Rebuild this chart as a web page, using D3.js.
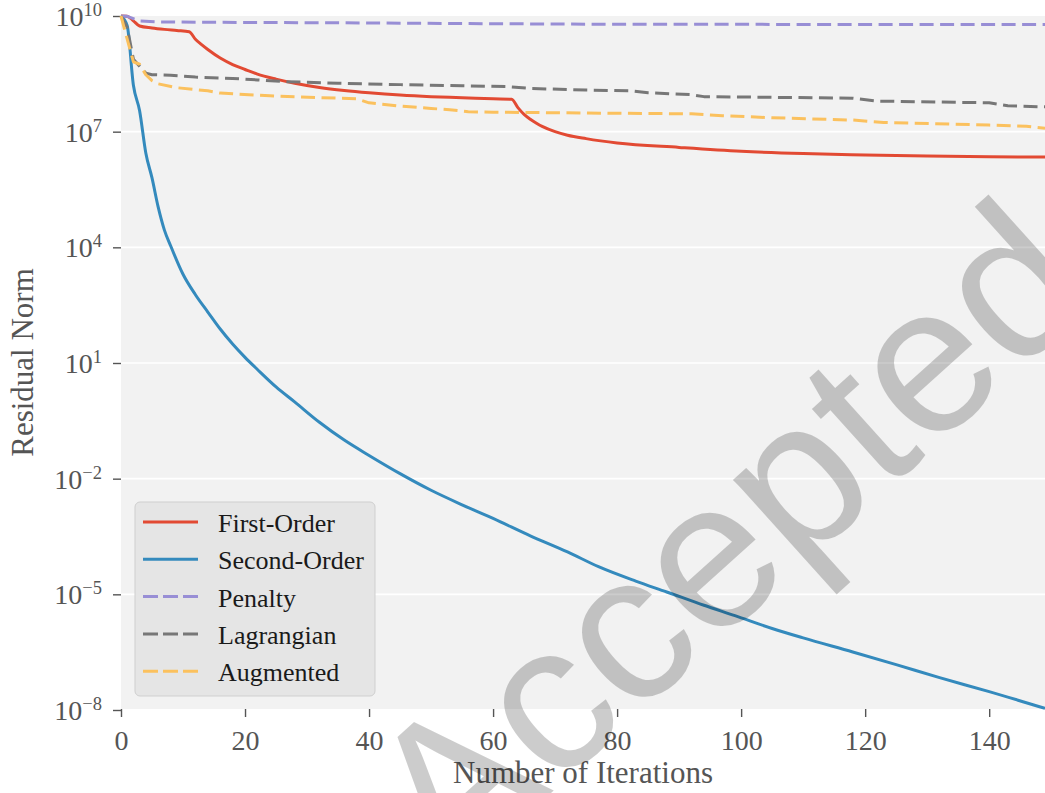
<!DOCTYPE html>
<html>
<head>
<meta charset="utf-8">
<script src="https://cdn.jsdelivr.net/npm/d3@7"></script>
<style>
  html, body { margin: 0; padding: 0; background: #fff; }
  svg { display: block; font-family: "Liberation Serif", "DejaVu Serif", serif; }
</style>
</head>
<body>
<svg id="chart" width="1045" height="793"></svg>
<script>
// residual norm per iteration
const firstOrderIters = [0, 1, 2, 3, 5, 7, 9, 11, 12, 13, 14, 16, 18, 20, 22, 25, 28, 32, 36, 40, 45, 50, 55, 60, 63,
  64, 65, 66, 67, 68, 70, 72, 75, 80, 90, 100, 110, 120, 130, 140, 149];
const firstOrderResidual = [1e10, 9.9e9, 7.5e9, 5.5e9, 4.9e9, 4.5e9, 4.2e9, 3.9e9, 2.5e9, 1.8e9, 1.35e9, 8.1e8, 5.5e8,
  4.1e8, 3.1e8, 2.3e8, 1.8e8, 1.4e8, 1.17e8, 1.02e8, 8.9e7, 8.1e7, 7.6e7, 7.1e7, 6.9e7,
  4.2e7, 2.8e7, 2.1e7, 1.66e7, 1.35e7, 1.0e7, 8.1e6, 6.6e6, 5.1e6, 3.9e6, 3.1e6, 2.7e6, 2.5e6, 2.35e6, 2.24e6, 2.19e6];

const secondOrderIters = [0, 1, 2, 3, 4, 5, 6, 7, 8, 10, 12, 14, 16, 18, 20, 22, 25, 28, 32, 36, 40, 45, 50, 55, 60,
  66, 72, 77, 83, 88, 94, 99, 105, 110, 118, 125, 132, 140, 149];
const secondOrderResidual = [1e10, 5.6e9, 1.6e8, 3.5e7, 2.8e6, 6.3e5, 1.1e5, 2.8e4, 1.1e4, 2.0e3, 590, 210, 76, 31, 14,
  6.8, 2.4, 0.98, 0.29, 0.1, 0.04, 0.0135, 5.0e-3, 2.1e-3, 9.3e-4,
  3.3e-4, 1.26e-4, 5.2e-5, 2.2e-5, 1.15e-5, 5.2e-6, 2.8e-6, 1.3e-6, 7.4e-7, 3.2e-7, 1.5e-7, 6.9e-8, 3.0e-8, 1.1e-8];

const penaltyIters = [0, 1, 2, 3, 6, 20, 40, 60, 80, 149];
const penaltyResidual = [1e10, 9.8e9, 8.5e9, 7.4e9, 7.0e9, 6.8e9, 6.6e9, 6.3e9, 6.1e9, 6.0e9];

const lagrangianIters = [0, 1, 2, 3, 4, 5, 8, 12, 18, 22, 26, 35, 45, 55, 62, 66, 75, 82, 85, 92, 94, 118, 122, 140, 143, 149];
const lagrangianResidual = [1e10, 5.0e9, 7.6e8, 5.0e8, 3.3e8, 3.0e8, 2.9e8, 2.6e8, 2.4e8, 2.2e8, 2.0e8, 1.8e8, 1.66e8,
  1.55e8, 1.48e8, 1.32e8, 1.2e8, 1.15e8, 1.02e8, 9.1e7, 8.1e7, 7.4e7, 6.2e7, 5.6e7, 4.7e7, 4.4e7];

const augmentedIters = [0, 1, 2, 3, 4, 5, 6, 9, 14, 16, 24, 38, 40, 45, 50, 53, 56, 60, 80, 92, 97, 105, 118, 123, 140, 146, 149];
const augmentedResidual = [1e10, 2.5e9, 6.5e8, 5.6e8, 3.0e8, 2.1e8, 1.74e8, 1.38e8, 1.15e8, 1.0e8, 8.5e7, 7.1e7, 5.6e7,
  4.6e7, 4.0e7, 3.7e7, 3.3e7, 3.2e7, 3.0e7, 2.9e7, 2.6e7, 2.3e7, 2.0e7, 1.74e7, 1.48e7, 1.38e7, 1.23e7];

const xTicks = [0, 20, 40, 60, 80, 100, 120, 140];
const yTicks = [1e10, 1e7, 1e4, 1e1, 1e-2, 1e-5, 1e-8];
const yTickExponents = ["10", "7", "4", "1", "\u22122", "\u22125", "\u22128"];

const series = [
  { name: "First-Order", iters: firstOrderIters, values: firstOrderResidual, color: "#E24A33", dash: null, smooth: true },
  { name: "Second-Order", iters: secondOrderIters, values: secondOrderResidual, color: "#348ABD", dash: null, smooth: true },
  { name: "Penalty", iters: penaltyIters, values: penaltyResidual, color: "#988ED5", dash: "14,6.5", smooth: false },
  { name: "Lagrangian", iters: lagrangianIters, values: lagrangianResidual, color: "#777777", dash: "14,6.5", smooth: false },
  { name: "Augmented", iters: augmentedIters, values: augmentedResidual, color: "#FBC15E", dash: "14,6.5", smooth: false }
];

// plot area in page pixels
const plot = { left: 121, right: 1045, top: 16, bottom: 709 };

const svg = d3.select("#chart");

const x = d3.scaleLinear().domain([0, 149]).range([plot.left, plot.right]);
const y = d3.scaleLog().domain([1e-8, 1e10]).range([plot.bottom + 1, plot.top]);

// background + grid
svg.append("rect")
  .attr("x", plot.left).attr("y", plot.top)
  .attr("width", plot.right - plot.left).attr("height", plot.bottom - plot.top)
  .attr("fill", "#f2f2f2");

svg.append("g").selectAll("line")
  .data(yTicks.slice(1, -1))
  .join("line")
  .attr("x1", plot.left).attr("x2", plot.right)
  .attr("y1", d => y(d)).attr("y2", d => y(d))
  .attr("stroke", "#ffffff")
  .attr("stroke-width", 1.6);

// axes
const xAxis = svg.append("g")
  .attr("transform", `translate(0,${plot.bottom})`)
  .call(d3.axisBottom(x).tickValues(xTicks).tickSize(8).tickPadding(13));

const yAxis = svg.append("g")
  .attr("transform", `translate(${plot.left},0)`)
  .call(d3.axisLeft(y).tickValues(yTicks).tickSize(8).tickFormat(() => ""));

[xAxis, yAxis].forEach(g => {
  g.select(".domain").remove();
  g.selectAll(".tick line").attr("stroke", "#555").attr("stroke-width", 1.4);
});

xAxis.selectAll(".tick text")
  .attr("font-family", "Liberation Serif, serif")
  .attr("font-size", 28)
  .attr("fill", "#555");

// y labels as 10 with a superscript exponent
yAxis.selectAll(".tick").each(function(d, i) {
  const t = d3.select(this).select("text")
    .attr("x", -19).attr("dy", null).attr("y", 9.5)
    .attr("text-anchor", "end")
    .attr("font-family", "Liberation Serif, serif")
    .attr("font-size", 28)
    .attr("fill", "#555");
  t.text(null);
  t.append("tspan").text("10");
  t.append("tspan").attr("dy", -10).attr("font-size", 18.5).text(yTickExponents[i]);
});

// axis titles
svg.append("text")
  .attr("x", (plot.left + plot.right) / 2).attr("y", 783)
  .attr("text-anchor", "middle")
  .attr("font-size", 31)
  .attr("fill", "#555")
  .text("Number of Iterations");

svg.append("text")
  .attr("transform", `translate(33,${(plot.top + plot.bottom) / 2}) rotate(-90)`)
  .attr("text-anchor", "middle")
  .attr("font-size", 31)
  .attr("fill", "#555")
  .text("Residual Norm");

// lines
const lines = svg.append("g");
series.forEach(s => {
  const pts = s.iters.map((it, i) => [it, s.values[i]]);
  const line = d3.line()
    .x(d => x(d[0]))
    .y(d => y(d[1]))
    .curve(s.smooth ? d3.curveMonotoneX : d3.curveLinear);
  lines.append("path")
    .datum(pts)
    .attr("d", line)
    .attr("fill", "none")
    .attr("stroke", s.color)
    .attr("stroke-width", 3)
    .attr("stroke-dasharray", s.dash)
    .attr("stroke-linejoin", "round");
});

// legend
const legend = svg.append("g").attr("transform", "translate(135,502)");
legend.append("rect")
  .attr("width", 240).attr("height", 194)
  .attr("rx", 5)
  .attr("fill", "#e5e5e5")
  .attr("stroke", "#cfcfcf")
  .attr("stroke-width", 1);

series.forEach((s, i) => {
  const cy = 20 + i * 37.3;
  legend.append("line")
    .attr("x1", 8).attr("x2", 63)
    .attr("y1", cy).attr("y2", cy)
    .attr("stroke", s.color)
    .attr("stroke-width", 3)
    .attr("stroke-dasharray", s.dash ? "15,5" : null);
  legend.append("text")
    .attr("x", 83).attr("y", cy + 10)
    .attr("font-size", 26)
    .attr("fill", "#1a1a1a")
    .text(s.name);
});

// watermark
svg.append("text")
  .attr("transform", "translate(450,884) rotate(-42)")
  .attr("font-family", "Liberation Sans, Arial, sans-serif")
  .attr("font-size", 210)
  .attr("fill", "#000")
  .attr("fill-opacity", 0.2)
  .text("Accepted");
</script>
</body>
</html>
